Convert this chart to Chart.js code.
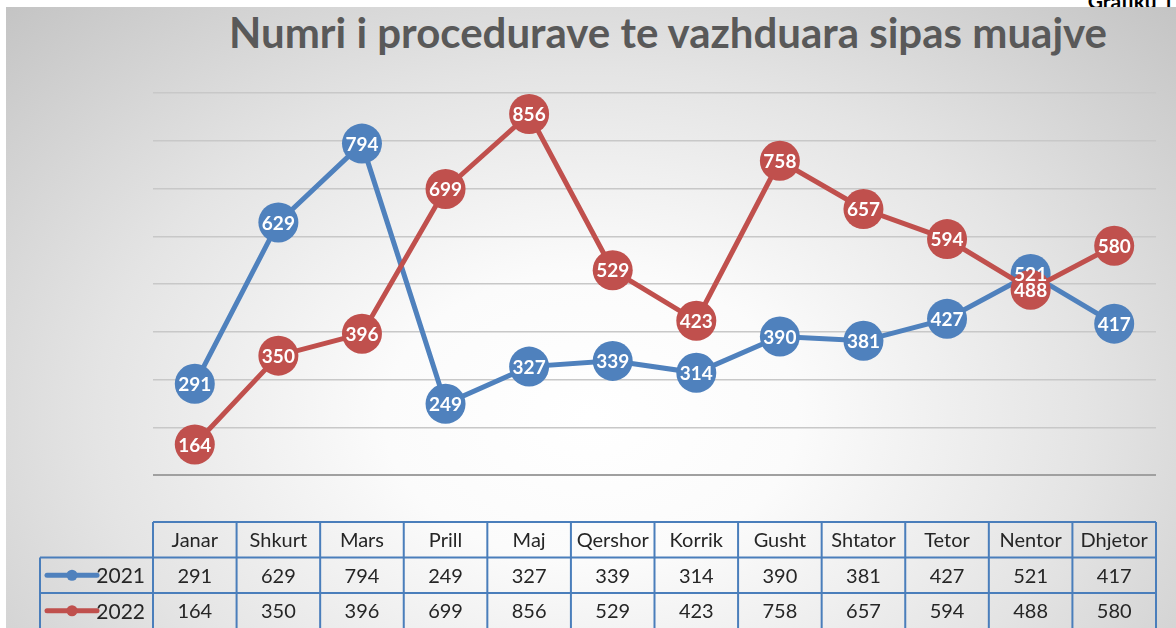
<!doctype html>
<html lang="sq">
  <head>
    <meta charset="UTF-8" />
    <title>Numri i procedurave te vazhduara sipas muajve</title>
    <script src="https://cdn.jsdelivr.net/npm/chart.js"></script>
    <style>
      html, body { margin: 0; padding: 0; background: #fff; }
      body { width: 1176px; height: 628px; position: relative; overflow: hidden; }
      #caption {
        position: absolute; right: 2px; top: -12px;
        font: bold 21px Lato, sans-serif; color: #000; z-index: 0;
      }
      #frame {
        position: absolute; left: 6px; top: 7px; right: 0; bottom: 0; z-index: 1;
        background: radial-gradient(ellipse farthest-corner at 50% 66%, #ffffff 0%, #fbfbfb 25%, #e4e4e4 60%, #c4c4c4 100%);
      }
      #title {
        position: absolute; left: 0; top: 7px; width: 1336px; text-align: center;
        font: bold 42px Lato, sans-serif; color: #595959; z-index: 2;
      }
      #chart { position: absolute; left: 0; top: 0; z-index: 3; }
    </style>
  </head>
  <body>
    <div id="caption">Grafiku 1</div>
    <div id="frame"></div>
    <div id="title">Numri i procedurave te vazhduara sipas muajve</div>
    <canvas id="chart" width="1176" height="628"></canvas>

    <script>
      const months = ["Janar", "Shkurt", "Mars", "Prill", "Maj", "Qershor",
        "Korrik", "Gusht", "Shtator", "Tetor", "Nentor", "Dhjetor"];
      const seriesNames = ["2021", "2022"];
      const values2021 = [291, 629, 794, 249, 327, 339, 314, 390, 381, 427, 521, 417];
      const values2022 = [164, 350, 396, 699, 856, 529, 423, 758, 657, 594, 488, 580];
      const yMin = 100, yMax = 900, yStep = 100;

      const blue = "#4f81bd";
      const red = "#c0504d";

      // white value labels centered on the big markers
      const pointLabels = {
        id: "pointLabels",
        afterDatasetsDraw(chart) {
          const ctx = chart.ctx;
          ctx.save();
          ctx.font = "bold 19px Lato, sans-serif";
          ctx.fillStyle = "#fff";
          ctx.textAlign = "center";
          ctx.textBaseline = "middle";
          chart.data.datasets.forEach((ds, i) => {
            chart.getDatasetMeta(i).data.forEach((pt, j) => {
              ctx.fillText(String(ds.data[j]), pt.x, pt.y + 1);
            });
          });
          ctx.restore();
        },
      };

      // data table under the plot
      const dataTable = {
        id: "dataTable",
        afterDraw(chart) {
          const ctx = chart.ctx;
          const area = chart.chartArea;
          const xs = chart.scales.x;
          const colW = (area.right - area.left) / months.length;
          const top = area.bottom + 47;
          const rowH = 35.5;
          const legendLeft = area.left - 113;
          const bottom = top + rowH * 3 + 2;

          ctx.save();
          ctx.strokeStyle = "#4a7ebb";
          ctx.lineWidth = 2;
          ctx.beginPath();
          ctx.moveTo(area.left, top); ctx.lineTo(area.right, top);
          for (let r = 1; r <= 2; r++) {
            ctx.moveTo(legendLeft, top + rowH * r);
            ctx.lineTo(area.right, top + rowH * r);
          }
          ctx.moveTo(legendLeft, top + rowH); ctx.lineTo(legendLeft, bottom);
          for (let c = 0; c <= months.length; c++) {
            const x = area.left + colW * c;
            ctx.moveTo(x, top); ctx.lineTo(x, bottom);
          }
          ctx.stroke();

          ctx.font = "20px Lato, sans-serif";
          ctx.fillStyle = "#262626";
          ctx.textAlign = "center";
          ctx.textBaseline = "middle";
          const rows = [values2021, values2022];
          months.forEach((m, i) => {
            const x = xs.getPixelForValue(i);
            ctx.fillText(m, x, top + rowH * 0.5 + 1);
            rows.forEach((vals, r) => {
              ctx.fillText(String(vals[i]), x, top + rowH * (r + 1.5) + 1);
            });
          });

          // legend keys
          const colors = [blue, red];
          seriesNames.forEach((name, r) => {
            const y = top + rowH * (r + 1.5);
            ctx.strokeStyle = colors[r];
            ctx.lineWidth = 5;
            ctx.lineCap = "round";
            ctx.beginPath();
            ctx.moveTo(legendLeft + 7, y); ctx.lineTo(legendLeft + 57, y);
            ctx.stroke();
            ctx.fillStyle = colors[r];
            ctx.beginPath();
            ctx.arc(legendLeft + 32, y, 5.5, 0, Math.PI * 2);
            ctx.fill();
            ctx.fillStyle = "#262626";
            ctx.font = "21px Lato, sans-serif";
            ctx.textAlign = "right";
            ctx.fillText(name, area.left - 8, y + 1);
          });
          ctx.restore();
        },
      };

      const ctx = document.getElementById("chart").getContext("2d");
      const chart = new Chart(ctx, {
        type: "line",
        data: {
          labels: months,
          datasets: [
            {
              label: seriesNames[0],
              data: values2021,
              borderColor: blue,
              backgroundColor: blue,
              pointBackgroundColor: blue,
              pointBorderColor: blue,
              borderWidth: 5,
              pointRadius: 20,
              pointBorderWidth: 0,
              tension: 0,
              order: 1,
            },
            {
              label: seriesNames[1],
              data: values2022,
              borderColor: red,
              backgroundColor: red,
              pointBackgroundColor: red,
              pointBorderColor: red,
              borderWidth: 5,
              pointRadius: 20,
              pointBorderWidth: 0,
              tension: 0,
              order: 0,
            },
          ],
        },
        options: {
          responsive: false,
          animation: false,
          devicePixelRatio: 1,
          layout: { padding: { left: 153, right: 14, top: 93, bottom: 153 } },
          plugins: {
            legend: { display: false },
            tooltip: { enabled: false },
          },
          scales: {
            x: {
              offset: true,
              ticks: { display: false },
              grid: { display: false, drawTicks: false },
              border: { display: false },
            },
            y: {
              min: yMin,
              max: yMax,
              ticks: { display: false, stepSize: yStep },
              grid: {
                drawTicks: false,
                color: (c) => (c.tick && c.tick.value === yMin ? "#a0a0a0" : "#c8c8c8"),
                lineWidth: (c) => (c.tick && c.tick.value === yMin ? 2 : 1.5),
              },
              border: { display: false },
            },
          },
        },
        plugins: [pointLabels, dataTable],
      });
    </script>
  </body>
</html>
